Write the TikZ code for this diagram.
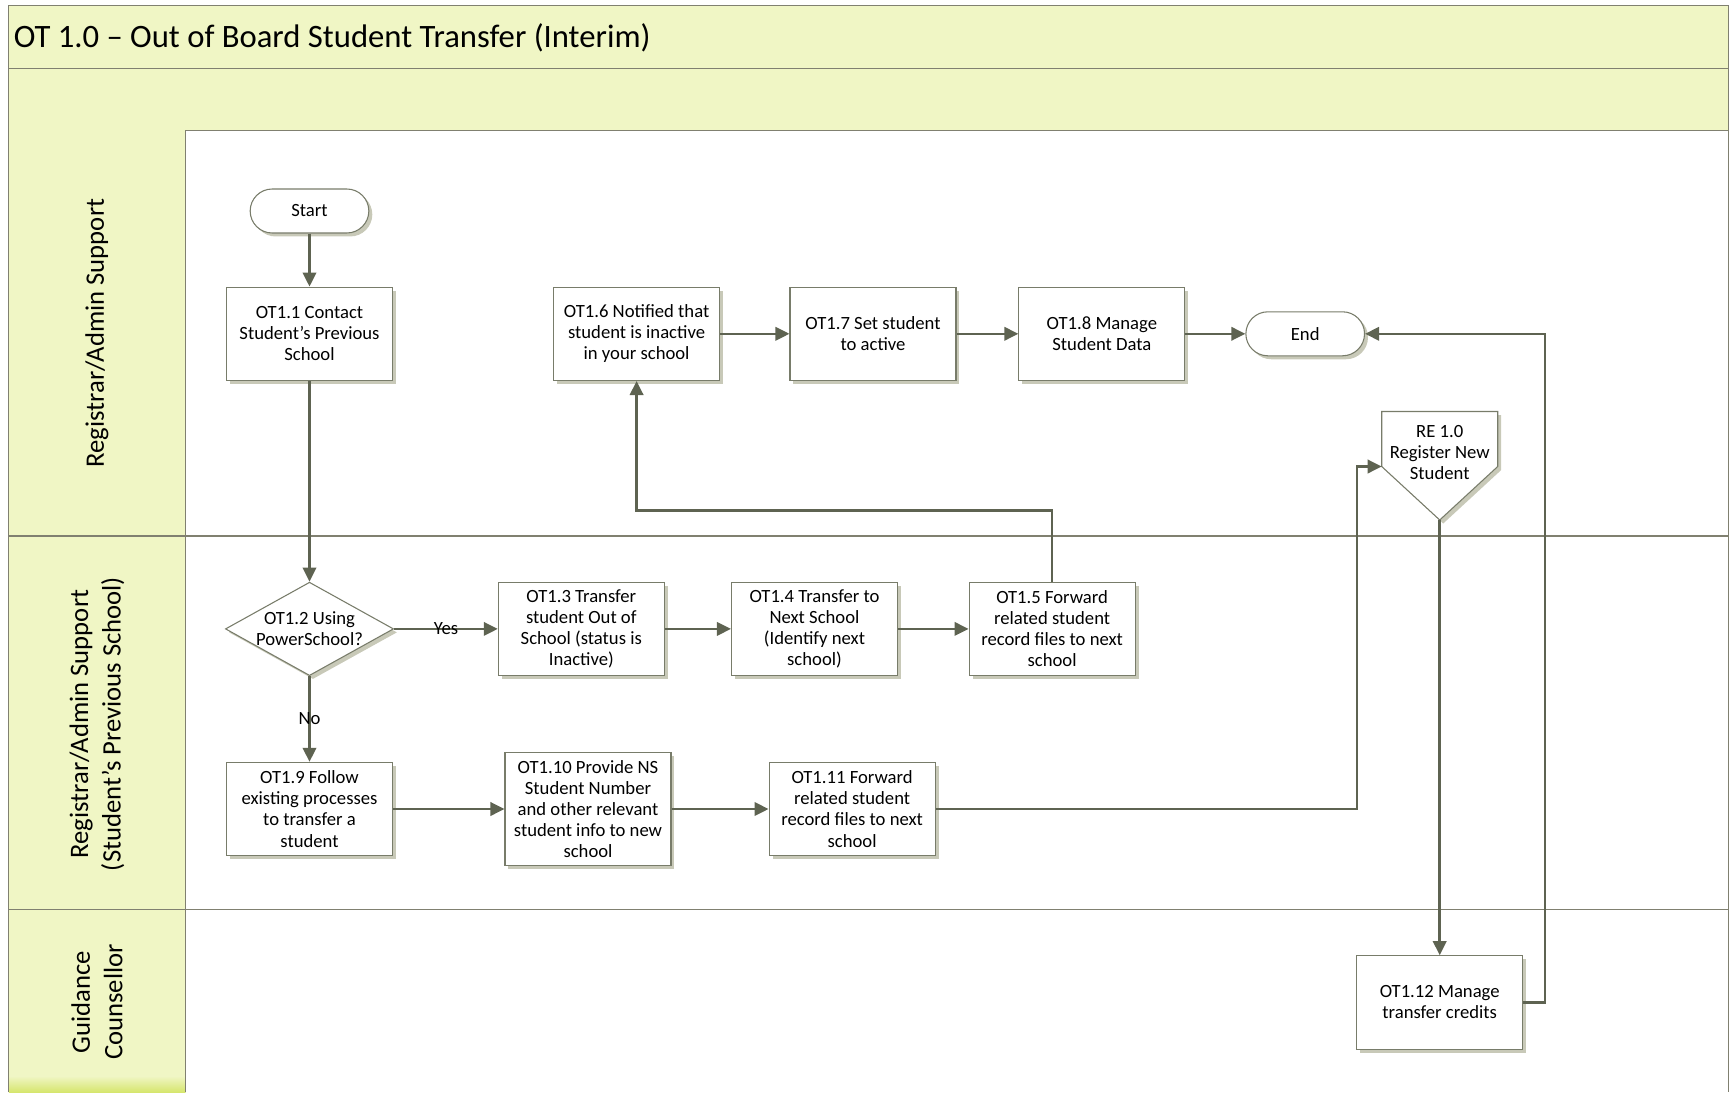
\documentclass[tikz,border=0pt]{standalone}
\usepackage{fontspec}
\setmainfont{Carlito}
\usetikzlibrary{positioning,arrows.meta,shapes.geometric,shadows}

\definecolor{bandfill}{RGB}{240,246,197}
\definecolor{bandline}{RGB}{128,128,112}
\definecolor{bandlow}{RGB}{214,230,110}
\definecolor{flowline}{RGB}{94,99,81}
\definecolor{boxline}{RGB}{120,124,106}
\definecolor{shadowc}{RGB}{200,201,184}

\begin{document}
\begin{tikzpicture}[
  x=0.75pt, y=-0.75pt,
  font=\fontsize{14}{15.8}\selectfont,
  boxshadow/.style={drop shadow={shadow xshift=2.6pt,shadow yshift=-2.6pt,
                    fill=shadowc,opacity=1}},
  task/.style={draw=boxline,fill=white,line width=0.8pt,align=center,
               minimum width=124.5pt,minimum height=70pt,inner sep=2pt,boxshadow},
  term/.style={draw=boxline,fill=white,line width=0.8pt,rounded corners=16.5pt,
               minimum width=89pt,minimum height=33pt,boxshadow},
  decision/.style={diamond,draw=boxline,fill=white,line width=0.8pt,align=center,
                   minimum width=124.5pt,minimum height=70pt,inner sep=0pt,
                   aspect=1.8,boxshadow},
  lane/.style={draw=bandline,fill=bandfill,line width=1pt},
  laneline/.style={draw=bandline,line width=1pt},
  lanelabel/.style={rotate=90,align=center,font=\fontsize{20}{24.5}\selectfont},
  arr/.style={-{Triangle[length=10.5pt,width=10pt]},draw=flowline,line width=1.9pt},
  lbl/.style={inner sep=0pt}
]
\useasboundingbox (0,0) rectangle (1733,1092);

% header bands and lane column
\draw[lane] (8.8,5.5) rectangle (1728.5,68.5);
\draw[lane] (8.8,68.5) rectangle (1728.5,130.4);
\fill[bandfill] (8.8,130.4) rectangle (185.7,1092);
\shade[top color=bandfill,bottom color=bandlow] (8.8,1076) rectangle (185.7,1092);
\draw[laneline] (8.8,536) -- (1728.5,536);
\draw[laneline] (8.8,909.6) -- (1728.5,909.6);
\draw[laneline] (8.8,130.4) -- (8.8,1092);
\draw[laneline] (185.7,130.4) -- (185.7,1092);
\draw[laneline] (1728.5,130.4) -- (1728.5,1092);

\node[anchor=west,inner sep=0pt,font=\fontsize{24.5}{29}\selectfont] (title) at (13.5,37.6)
  {OT 1.0 – Out of Board Student Transfer (Interim)};

\node[lanelabel] (lanereg) at (97,333) {Registrar/Admin Support};
\node[lanelabel] (laneprev) at (97,724)
  {Registrar/Admin Support\\(Student’s Previous School)};
\node[lanelabel] (laneguid) at (97,1002) {Guidance\\Counsellor};

% registrar lane
\node[term] (start) at (309.5,211) {Start};
\node[task] (ot11) at (309.5,333.8) {OT1.1 Contact\\Student’s Previous\\School};
\node[task] (ot16) at (636.6,333.8) {OT1.6 Notified that\\student is inactive\\in your school};
\node[task] (ot17) at (873,333.8) {OT1.7 Set student\\to active};
\node[task] (ot18) at (1101.9,333.8) {OT1.8 Manage\\Student Data};
\node[term] (end) at (1305.2,333.8) {End};

% off-page reference
\coordinate (recen) at (1439.7,452.5);
\begin{scope}[shift={(recen)}]
  \fill[shadowc] (-54.5,-37.5) -- (61.5,-37.5) -- (61.5,17.5) -- (3.5,71)
    -- (-54.5,17.5) -- cycle;
  \filldraw[draw=boxline,fill=white,line width=0.8pt] (-58,-41) -- (58,-41)
    -- (58,14) -- (0,67.5) -- (-58,14) -- cycle;
\end{scope}
\node[align=center] (re) at (recen) {RE 1.0\\Register New\\Student};
\coordinate (rein) at (1381.7,466.5);
\coordinate (retip) at (1439.7,520);

% previous school lane
\node[decision] (ot12) at (309.5,628.9) {OT1.2 Using\\PowerSchool?};
\node[task] (ot13) at (581.3,628.9) {OT1.3 Transfer\\student Out of\\School (status is\\Inactive)};
\node[task] (ot14) at (814.5,628.9) {OT1.4 Transfer to\\Next School\\(Identify next\\school)};
\node[task] (ot15) at (1052.1,628.9) {OT1.5 Forward\\related student\\record files to next\\school};
\node[task] (ot19) at (309.5,809) {OT1.9 Follow\\existing processes\\to transfer a\\student};
\node[task,minimum height=84.75pt] (ot110) at (588,809)
  {OT1.10 Provide NS\\Student Number\\and other relevant\\student info to new\\school};
\node[task] (ot111) at (852.1,809) {OT1.11 Forward\\related student\\record files to next\\school};

% guidance lane
\node[task] (ot112) at (1439.7,1002.4) {OT1.12 Manage\\transfer credits};

\coordinate (bendup) at (0,510.6);
\coordinate (bendre) at (1357.2,0);
\coordinate (bendend) at (1545,0);

\foreach \u/\v in {start/ot11,ot11/ot12,ot13/ot14,ot14/ot15,ot16/ot17,ot17/ot18,
                   ot18/end,ot19/ot110,ot110/ot111}
  {\draw[arr] (\u)--(\v);}
\draw[arr] (ot12) -- node[lbl]{Yes} (ot13);
\draw[arr] (ot12) -- node[lbl]{No} (ot19);
\draw[arr] (ot15.north) -- (ot15.north |- bendup) -| (ot16.south);
\draw[arr] (ot111.east) -- (ot111.east -| bendre) |- (rein);
\draw[arr] (retip) -- (ot112.north);
\draw[arr] (ot112.east) -- (ot112.east -| bendend) |- (end.east);

\end{tikzpicture}
\end{document}
